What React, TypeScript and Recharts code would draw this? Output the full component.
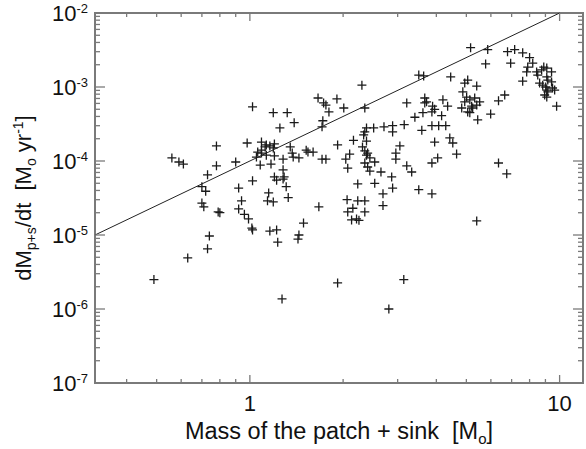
import { ScatterChart, Scatter, XAxis, YAxis, ReferenceArea, ReferenceLine, Label } from "recharts"

// sink + patch mass [Msun] and accretion rate [Msun/yr]
// low-mass clump (M < 1.6)
const lowMass = [
  0.49, 0.56, 0.59, 0.61, 0.63, 0.70, 0.72, 0.70,
  0.71, 0.73, 0.73, 0.74, 0.78, 0.78, 0.79, 0.80,
  0.90, 0.92, 0.92, 0.94, 0.96, 0.98, 0.99, 1.015,
  1.02, 1.02, 1.02, 1.05, 1.06, 1.09, 1.09, 1.12,
  1.13, 1.08, 1.09, 1.13, 1.16, 1.2, 1.19, 1.2,
  1.17, 1.19, 1.32, 1.39, 1.25, 1.35, 1.37, 1.38,
  1.28, 1.44, 1.52, 1.54, 1.6, 1.28, 1.29, 1.2,
  1.22, 1.28, 1.31, 1.15, 1.14, 1.19, 1.33, 1.16,
  1.22, 1.23, 1.49, 1.44, 1.43, 1.27,
]
const lowRate = [
  2.5e-6, 1.1e-4, 9.7e-5, 9.1e-5, 4.9e-6, 4.5e-5, 3.9e-5, 2.7e-5,
  2.4e-5, 6.5e-6, 6.5e-5, 9.7e-6, 8.6e-5, 1.6e-4, 2.05e-5, 2.0e-5,
  9.7e-5, 4.3e-5, 2.25e-5, 2.9e-5, 1.9e-5, 1.75e-4, 1.65e-5, 1.24e-5,
  1.17e-5, 5.4e-4, 5.4e-5, 1.13e-4, 1.32e-4, 1.8e-4, 1.4e-4, 1.55e-4,
  1.65e-4, 8.8e-5, 1.28e-4, 1.2e-4, 1.6e-4, 1.7e-4, 1.5e-4, 1.17e-4,
  9.1e-5, 4.5e-4, 4.5e-4, 3.3e-4, 2.8e-4, 1.55e-4, 1.28e-4, 1.13e-4,
  1.06e-4, 1.1e-4, 1.4e-4, 1.32e-4, 1.32e-4, 7.6e-5, 6.1e-5, 6.1e-5,
  5.5e-5, 5.7e-5, 4.5e-5, 3.7e-5, 2.9e-5, 2.8e-5, 3.2e-5, 1.13e-5,
  1.17e-5, 8.0e-6, 1.45e-5, 1.0e-5, 8.8e-6, 1.37e-6,
]

// middle clump (1.6 < M < 3.3)
const midMass = [
  1.66, 1.73, 1.76, 1.91, 2.01, 1.8, 2.3, 2.35,
  1.72, 1.71, 1.71, 1.76, 1.67, 1.92, 1.92, 2.04,
  2.1, 2.07, 2.16, 2.33, 2.35, 2.38, 2.51, 2.38,
  2.31, 2.35, 2.4, 2.38, 2.44, 2.53, 2.35, 2.4,
  2.44, 2.65, 2.71, 2.89, 3.15, 2.89, 2.96, 2.96,
  3.05, 3.21, 2.87, 2.53, 2.23, 2.89, 2.69, 2.06,
  2.23, 2.35, 2.15, 2.07, 2.35, 2.13, 2.21, 2.25,
  2.69, 2.81, 3.14,
]
const midRate = [
  7.1e-4, 6.1e-4, 5.7e-4, 6.9e-4, 5.2e-4, 4.6e-4, 1.06e-3, 5.2e-4,
  3.5e-4, 2.9e-4, 1.06e-4, 1.06e-4, 2.4e-5, 1.65e-4, 2.25e-6, 1.06e-4,
  1.24e-4, 8.0e-5, 1.9e-4, 2.25e-4, 2.47e-4, 2.8e-4, 2.8e-4, 1.86e-4,
  1.55e-4, 1.37e-4, 1.28e-4, 1.2e-4, 1.1e-4, 9.7e-5, 9.4e-5, 8.3e-5,
  7.3e-5, 7.1e-5, 2.9e-4, 3.0e-4, 3.1e-4, 2.47e-4, 1.28e-4, 1.06e-4,
  1.6e-4, 8.6e-5, 6.1e-5, 5.0e-5, 4.9e-5, 4.3e-5, 3.6e-5, 3.0e-5,
  2.9e-5, 2.9e-5, 2.3e-5, 2.05e-5, 2.05e-5, 1.6e-5, 1.65e-5, 1.58e-5,
  2.5e-5, 1.0e-6, 2.5e-6,
]

// high-mass clump (M > 3.2)
const highMass = [
  3.21, 3.41, 3.62, 3.87, 4.16, 3.51, 3.64, 4.45,
  5.05, 4.94, 5.4, 3.67, 3.72, 3.67, 3.89, 3.95,
  4.2, 4.35, 3.59, 3.87, 4.07, 4.29, 3.95, 4.42,
  4.52, 4.65, 4.04, 3.87, 3.33, 3.51, 3.87, 4.87,
  5.01, 4.94, 5.13, 5.32, 5.52, 4.83, 5.2, 5.24,
  5.05, 5.13, 5.4, 5.44, 5.99, 6.35, 6.65, 5.16,
  5.86, 6.79, 7.16, 7.6, 8.0, 8.19, 5.77, 6.95,
  7.6, 8.43, 8.75, 8.89, 9.09, 9.42, 7.83, 7.89,
  8.5, 9.09, 9.16, 9.42, 8.62, 8.82, 9.02, 9.49,
  9.64, 9.09, 8.95, 9.09, 9.16, 9.78, 6.35, 6.75,
  5.4,
]
const highRate = [
  6.1e-4, 3.9e-4, 4.5e-4, 4.6e-4, 4.1e-4, 1.45e-3, 1.41e-3, 1.37e-3,
  1.24e-3, 1.13e-3, 1.03e-3, 7.1e-4, 6.3e-4, 6.1e-4, 5.5e-4, 5.0e-4,
  6.7e-4, 5.5e-4, 2.6e-4, 3.0e-4, 3.0e-4, 3.0e-4, 1.8e-4, 2.05e-4,
  1.75e-4, 1.24e-4, 1.1e-4, 9.4e-5, 7.1e-5, 4.1e-5, 3.6e-5, 8.6e-4,
  7.3e-4, 6.3e-4, 6.7e-4, 7.1e-4, 6.3e-4, 5.2e-4, 5.5e-4, 5.2e-4,
  4.6e-4, 4.5e-4, 5.7e-4, 3.6e-4, 4.3e-4, 6.5e-4, 7.8e-4, 3.4e-3,
  3.2e-3, 3.0e-3, 3.2e-3, 2.9e-3, 2.5e-3, 2.1e-3, 2.05e-3, 2.1e-3,
  1.2e-3, 1.6e-3, 1.7e-3, 1.86e-3, 1.8e-3, 1.6e-3, 1.6e-3, 1.86e-3,
  1.45e-3, 1.37e-3, 1.24e-3, 1.17e-3, 1.13e-3, 1.06e-3, 1.0e-3, 9.7e-4,
  9.1e-4, 9.1e-4, 7.8e-4, 7.3e-4, 8.6e-4, 5.5e-4, 9.4e-5, 6.7e-5,
  1.55e-5,
]

// reference relation dM/dt = 1e-4 M^2
const fitMass = [0.3162, 10]
const fitRate = [1e-5, 1e-2]

const massTicks = [0.4, 0.5, 0.6, 0.7, 0.8, 0.9, 1, 2, 3, 4, 5, 6, 7, 8, 9, 10]
const massLabels = [1, 10]
const rateDecades = [1e-7, 1e-6, 1e-5, 1e-4, 1e-3, 1e-2]

const X_MIN = 0.3162
const X_MAX = 11.9
const Y_MIN = 1e-7
const Y_MAX = 1e-2

const PLOT_LEFT = 95
const PLOT_RIGHT = 583
const PLOT_TOP = 13
const PLOT_BOTTOM = 383

const FONT = "'Liberation Sans', Arial, Helvetica, sans-serif"
const AXIS_COLOR = "#7a7a7a"

const rateTicks = rateDecades.flatMap((d, i) =>
  i === rateDecades.length - 1 ? [d] : [1, 2, 3, 4, 5, 6, 7, 8, 9].map((m) => m * d)
)

const points = [
  ...lowMass.map((m, i) => ({ mass: m, rate: lowRate[i] })),
  ...midMass.map((m, i) => ({ mass: m, rate: midRate[i] })),
  ...highMass.map((m, i) => ({ mass: m, rate: highRate[i] })),
]

function PlusMarker(props: any) {
  const { cx, cy } = props
  if (cx == null || cy == null) return <g />
  const r = 4.5
  return (
    <path
      d={`M${cx - r},${cy}H${cx + r}M${cx},${cy - r}V${cy + r}`}
      stroke="#1a1a1a"
      strokeWidth={1.3}
      fill="none"
    />
  )
}

function MassTick(props: any) {
  const { x, payload } = props
  const v = payload.value
  const major = massLabels.includes(v)
  const len = major ? 8 : 4
  return (
    <g>
      <line x1={x} x2={x} y1={PLOT_BOTTOM} y2={PLOT_BOTTOM - len} stroke={AXIS_COLOR} strokeWidth={1.3} />
      <line x1={x} x2={x} y1={PLOT_TOP} y2={PLOT_TOP + len} stroke={AXIS_COLOR} strokeWidth={1.3} />
      {major && (
        <text x={x} y={PLOT_BOTTOM + 28} textAnchor="middle" fontSize={22} fontFamily={FONT} fill="#111">
          {v}
        </text>
      )}
    </g>
  )
}

function RateTick(props: any) {
  const { y, payload } = props
  const v = payload.value
  const exp = Math.round(Math.log10(v))
  const major = Math.abs(Math.log10(v) - exp) < 1e-6
  const len = major ? 10 : 5
  return (
    <g>
      <line x1={PLOT_LEFT} x2={PLOT_LEFT + len} y1={y} y2={y} stroke={AXIS_COLOR} strokeWidth={1.3} />
      <line x1={PLOT_RIGHT} x2={PLOT_RIGHT - len} y1={y} y2={y} stroke={AXIS_COLOR} strokeWidth={1.3} />
      {major && (
        <text x={PLOT_LEFT - 7} y={y + 8} textAnchor="end" fontSize={22} fontFamily={FONT} fill="#111">
          10
          <tspan dy={-8} fontSize={13}>
            {exp}
          </tspan>
        </text>
      )}
    </g>
  )
}

function MassTitle() {
  return (
    <text
      x={(PLOT_LEFT + PLOT_RIGHT) / 2}
      y={PLOT_BOTTOM + 56}
      textAnchor="middle"
      fontSize={23.5}
      fontFamily={FONT}
      fill="#111"
      style={{ whiteSpace: "pre" }}
    >
      Mass of the patch + sink  [M
      <tspan dy={5} fontSize={15}>o</tspan>
      <tspan dy={-5}>]</tspan>
    </text>
  )
}

function RateTitle() {
  const cx = 31
  const cy = (PLOT_TOP + PLOT_BOTTOM) / 2
  return (
    <text
      x={cx}
      y={cy}
      transform={`rotate(-90, ${cx}, ${cy})`}
      textAnchor="middle"
      fontSize={22}
      fontFamily={FONT}
      fill="#111"
      style={{ whiteSpace: "pre" }}
    >
      dM
      <tspan dy={5} fontSize={14}>p+s</tspan>
      <tspan dy={-5}>/dt  [M</tspan>
      <tspan dy={5} fontSize={14}>o</tspan>
      <tspan dy={-5}> yr</tspan>
      <tspan dy={-8} fontSize={14}>-1</tspan>
      <tspan dy={8}>]</tspan>
    </text>
  )
}

export default function App() {
  return (
    <div style={{ position: "absolute", left: 0, top: 0, background: "#fff" }}>
      <ScatterChart width={586} height={449} margin={{ top: PLOT_TOP, right: 586 - PLOT_RIGHT, bottom: 0, left: 0 }}>
        <XAxis
          dataKey="mass"
          type="number"
          scale="log"
          domain={[X_MIN, X_MAX]}
          allowDataOverflow
          ticks={massTicks}
          interval={0}
          tick={<MassTick />}
          tickLine={false}
          axisLine={false}
          height={449 - PLOT_BOTTOM}
        >
          <Label content={<MassTitle />} />
        </XAxis>
        <YAxis
          dataKey="rate"
          type="number"
          scale="log"
          domain={[Y_MIN, Y_MAX]}
          allowDataOverflow
          ticks={rateTicks}
          interval={0}
          tick={<RateTick />}
          tickLine={false}
          axisLine={false}
          width={PLOT_LEFT}
        >
          <Label content={<RateTitle />} />
        </YAxis>
        <ReferenceLine
          segment={[
            { x: fitMass[0], y: fitRate[0] },
            { x: fitMass[1], y: fitRate[1] },
          ]}
          stroke="#222"
          strokeWidth={1}
        />
        <Scatter data={points} shape={<PlusMarker />} isAnimationActive={false} />
        <ReferenceArea
          x1={X_MIN}
          x2={X_MAX}
          y1={Y_MIN}
          y2={Y_MAX}
          fill="none"
          fillOpacity={0}
          stroke={AXIS_COLOR}
          strokeWidth={2}
        />
      </ScatterChart>
    </div>
  )
}
